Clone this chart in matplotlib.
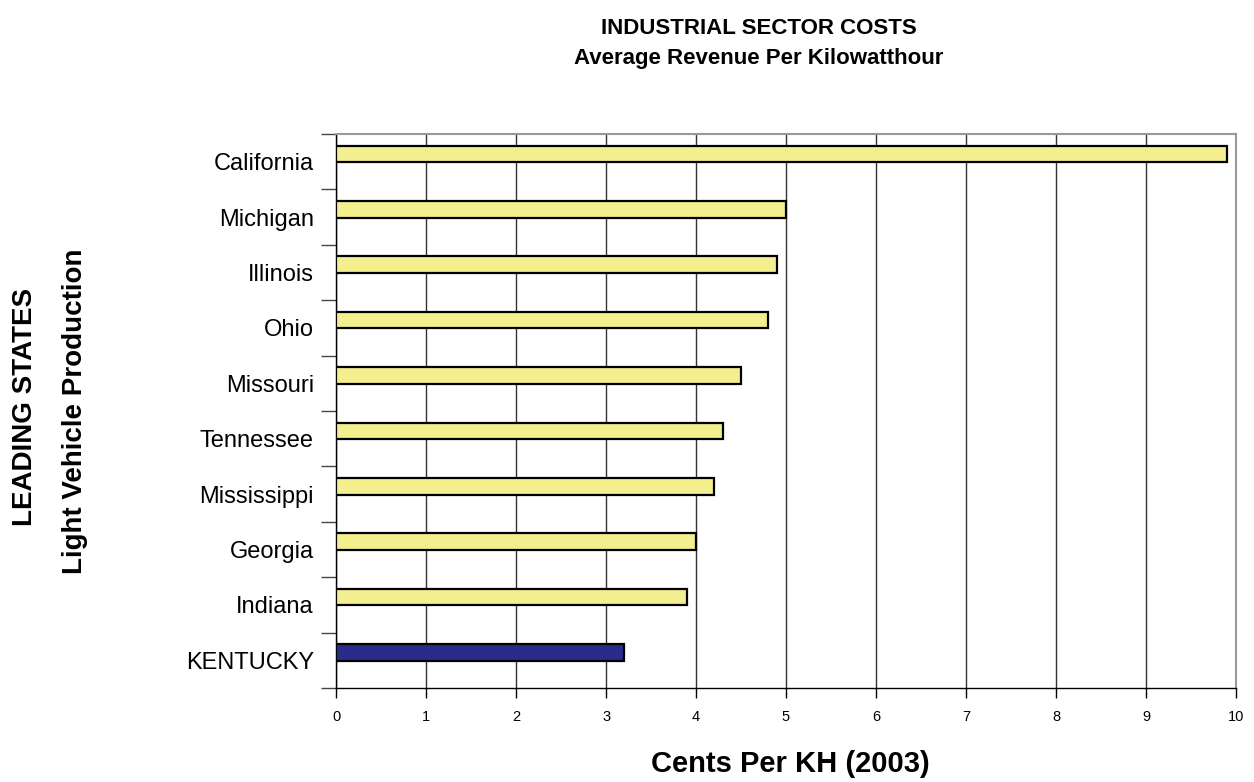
import matplotlib.pyplot as plt
from matplotlib.ticker import FixedLocator

plt.rcParams["font.family"] = ["Liberation Sans", "DejaVu Sans"]

# Data (top to bottom as shown)
states = ["California", "Michigan", "Illinois", "Ohio", "Missouri",
          "Tennessee", "Mississippi", "Georgia", "Indiana", "KENTUCKY"]
cents = [9.9, 5.0, 4.9, 4.8, 4.5, 4.3, 4.2, 4.0, 3.9, 3.2]
highlight = "KENTUCKY"

YELLOW = "#f3ef8e"
NAVY = "#2b2b8c"

fig = plt.figure(figsize=(12.54, 7.82), dpi=100)
ax = fig.add_axes([0.268, 0.1202, 0.7176, 0.7084])

n = len(states)
pos = list(range(n))[::-1]
colors = [NAVY if s == highlight else YELLOW for s in states]
# bars sit a little above the category centre, as in the original
ax.barh([p + 0.14 for p in pos], cents, height=0.3, color=colors,
        edgecolor="black", linewidth=1.6, zorder=3)

ax.set_xlim(0, 10)
ax.set_ylim(-0.5, n - 0.5)
ax.set_xticks(range(0, 11))
ax.tick_params(axis="x", labelsize=10.5, length=7, width=1, direction="out", pad=9)
ax.set_yticks(pos)
ax.set_yticklabels(states, fontsize=17)
ax.tick_params(axis="y", length=0, pad=16)
ax.yaxis.set_minor_locator(FixedLocator([p + 0.5 for p in range(-1, n)]))
ax.tick_params(axis="y", which="minor", length=11, width=1, color="#444444")

ax.grid(axis="x", color="#333333", linewidth=1, zorder=0)
for side in ["top", "right"]:
    ax.spines[side].set_color("#999999")
    ax.spines[side].set_linewidth(1.5)
for side in ["left", "bottom"]:
    ax.spines[side].set_color("black")
    ax.spines[side].set_linewidth(1)

fig.text(0.605, 0.964, "INDUSTRIAL SECTOR COSTS", ha="center", va="center",
         fontsize=16, fontweight="bold")
fig.text(0.605, 0.925, "Average Revenue Per Kilowatthour", ha="center", va="center",
         fontsize=16, fontweight="bold")
fig.text(0.63, 0.023, "Cents Per KH (2003)", ha="center", va="center",
         fontsize=21, fontweight="bold")
fig.text(0.020, 0.48, "LEADING STATES", rotation=90, ha="center", va="center",
         fontsize=20, fontweight="bold")
fig.text(0.060, 0.474, "Light Vehicle Production", rotation=90, ha="center",
         va="center", fontsize=20, fontweight="bold")

fig.savefig("out.png", dpi=100)
